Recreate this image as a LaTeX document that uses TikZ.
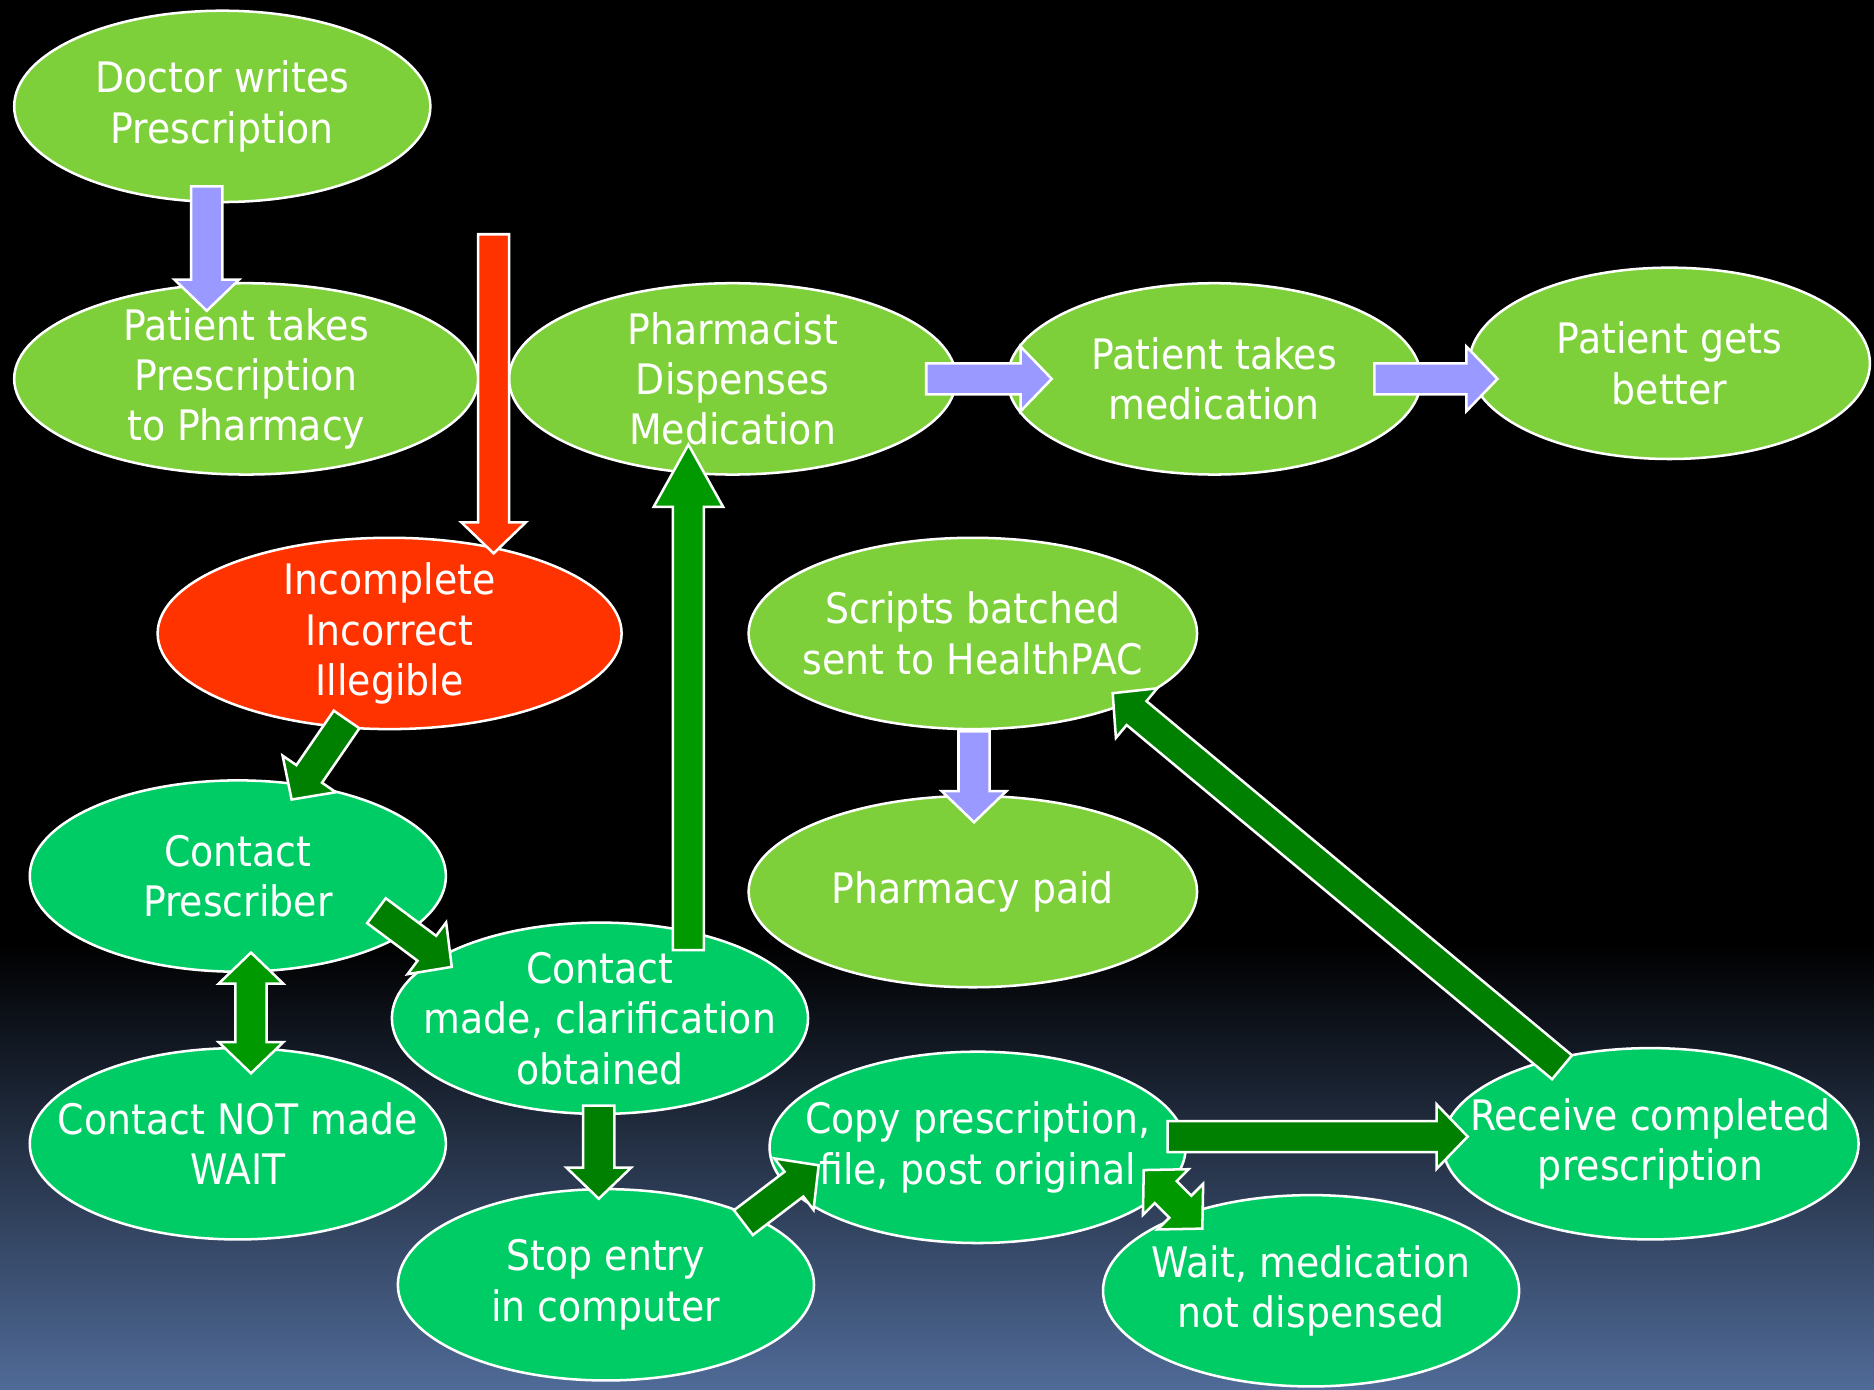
\documentclass[tikz,border=0pt]{standalone}
\usepackage{fontspec}
\setmainfont{DejaVu Sans}[FakeStretch=0.9]
\usetikzlibrary{shapes.geometric}
\usetikzlibrary{calc}
\definecolor{leafgreen}{RGB}{126,208,58}
\definecolor{mintgreen}{RGB}{0,204,102}
\definecolor{alertred}{RGB}{255,51,0}
\definecolor{lavender}{RGB}{153,153,255}
\definecolor{darkarrow}{RGB}{0,128,0}
\definecolor{brightarrow}{RGB}{0,153,0}
\definecolor{slate}{RGB}{80,107,152}
\newcommand{\shaftw}{0.13cm}
\newcommand{\headw}{0.27cm}
\newcommand{\headl}{0.26cm}
\newcommand{\fatarrow}[3][]{%
  \draw[fat,#1] ($(#2)!\shaftw!90:(#3)$)
    -- ($(#3)!\headl!(#2)!\shaftw!90:(#3)$)
    -- ($(#3)!\headl!(#2)!\headw!90:(#3)$)
    -- (#3)
    -- ($(#3)!\headl!(#2)!\headw!-90:(#3)$)
    -- ($(#3)!\headl!(#2)!\shaftw!-90:(#3)$)
    -- ($(#2)!\shaftw!-90:(#3)$) -- cycle;}
\newcommand{\fatdarrow}[3][]{%
  \draw[fat,#1] (#2)
    -- ($(#2)!\headl!(#3)!\headw!90:(#3)$)
    -- ($(#2)!\headl!(#3)!\shaftw!90:(#3)$)
    -- ($(#3)!\headl!(#2)!\shaftw!90:(#3)$)
    -- ($(#3)!\headl!(#2)!\headw!90:(#3)$)
    -- (#3)
    -- ($(#3)!\headl!(#2)!\headw!-90:(#3)$)
    -- ($(#3)!\headl!(#2)!\shaftw!-90:(#3)$)
    -- ($(#2)!\headl!(#3)!\shaftw!-90:(#3)$)
    -- ($(#2)!\headl!(#3)!\headw!-90:(#3)$) -- cycle;}
\tikzset{
  stage/.style={ellipse, draw=white, line width=0.6pt, text=white, align=center,
    inner xsep=-1cm, inner ysep=-0.6cm, minimum width=3.48cm, minimum height=1.6cm,
    font=\fontsize{10}{12}\selectfont},
  leaf/.style={stage, fill=leafgreen},
  mint/.style={stage, fill=mintgreen},
  alert/.style={stage, fill=alertred},
  fat/.style={draw=white, line width=0.6pt, line join=miter},
}

\begin{document}
\begin{tikzpicture}[x=0.01cm, y=-0.01cm]
	\fill[black] (0,0) rectangle (1568,1163);
	\shade[top color=black, bottom color=slate] (0,790) rectangle (1568,1163);
	\useasboundingbox (0,0) rectangle (1568,1163);
	%
	\node[leaf] (doc) at (186,89) {Doctor writes\\Prescription};
	\node[leaf, minimum width=3.88cm] (pat) at (206,317) {Patient takes\\Prescription\\to Pharmacy};
	\node[leaf, minimum width=3.74cm] (pharm) at (613,317) {Pharmacist\\Dispenses\\Medication};
	\node[leaf, minimum width=3.46cm] (ptm) at (1016,317) {Patient takes\\medication};
	\node[leaf, minimum width=3.35cm] (better) at (1397,304) {Patient gets\\better};
	\node[alert, minimum width=3.88cm] (inc) at (326,530) {Incomplete\\Incorrect\\Illegible};
	\node[leaf, minimum width=3.75cm] (scripts) at (814,530) {Scripts batched\\sent to HealthPAC};
	\node[leaf, minimum width=3.75cm] (paid) at (814,746) {Pharmacy paid};
	\node[mint] (cpres) at (199,733) {Contact\\Prescriber};
	\node[mint] (cmade) at (502,852) {Contact\\made, clarification\\obtained};
	\node[mint] (cnot) at (199,957) {Contact NOT made\\WAIT};
	\node[mint] (copy) at (818,960) {Copy prescription,\\file, post original};
	\node[mint] (recv) at (1381,957) {Receive completed\\prescription};
	\node[mint] (stop) at (507,1075) {Stop entry\\in computer};
	\node[mint] (wait) at (1097,1080) {Wait, medication\\not dispensed};
	%
	\coordinate (a1) at ($(doc)+(-13,67)$);
	\coordinate (a2) at ($(pat)+(-33,-57)$);
	\coordinate (b1) at (413,196);
	\coordinate (b2) at ($(inc)+(87,-67)$);
	\coordinate (c1) at ($(pharm)+(162,0)$);
	\coordinate (c2) at ($(ptm)+(-136,0)$);
	\coordinate (d1) at ($(ptm)+(134,0)$);
	\coordinate (d2) at ($(better)+(-144,13)$);
	\coordinate (e1) at ($(cmade)+(74,-57)$);
	\coordinate (e2) at ($(pharm)+(-37,55)$);
	\coordinate (f1) at ($(inc)+(-36,72)$);
	\coordinate (f2) at ($(cpres)+(45,-64)$);
	\coordinate (g1) at ($(cpres)+(116,29)$);
	\coordinate (g2) at ($(cmade)+(-124,-43)$);
	\coordinate (h1) at ($(cpres)+(11,64)$);
	\coordinate (h2) at ($(cnot)+(11,-59)$);
	\coordinate (i1) at ($(cmade)+(-1,73)$);
	\coordinate (i2) at ($(stop)+(-6,-72)$);
	\coordinate (j1) at ($(stop)+(115,-52)$);
	\coordinate (j2) at ($(copy)+(-133,15)$);
	\coordinate (k1) at ($(copy)+(159,-9)$);
	\coordinate (k2) at ($(recv)+(-153,-6)$);
	\coordinate (l1) at ($(copy)+(139,19)$);
	\coordinate (l2) at ($(wait)+(-91,-52)$);
	\coordinate (m1) at ($(recv)+(-74,-64)$);
	\coordinate (m2) at ($(scripts)+(117,50)$);
	\coordinate (n1) at ($(scripts)+(1,82)$);
	\coordinate (n2) at ($(paid)+(1,-58)$);
	%
	\fatarrow[fill=lavender]{a1}{a2}
	\fatarrow[fill=alertred]{b1}{b2}
	\fatarrow[fill=lavender]{c1}{c2}
	\fatarrow[fill=lavender]{d1}{d2}
	\fatarrow[fill=lavender]{n1}{n2}
	\begin{scope}
		\def\headl{0.52cm}\def\headw{0.29cm}
		\fatarrow[fill=brightarrow]{e1}{e2}
	\end{scope}
	\fatarrow[fill=darkarrow]{f1}{f2}
	\fatarrow[fill=darkarrow]{g1}{g2}
	\fatdarrow[fill=brightarrow]{h1}{h2}
	\fatarrow[fill=darkarrow]{i1}{i2}
	\fatarrow[fill=darkarrow]{j1}{j2}
	\fatarrow[fill=darkarrow]{k1}{k2}
	\fatdarrow[fill=brightarrow]{l1}{l2}
	\fatarrow[fill=darkarrow]{m1}{m2}
\end{tikzpicture}
\end{document}
